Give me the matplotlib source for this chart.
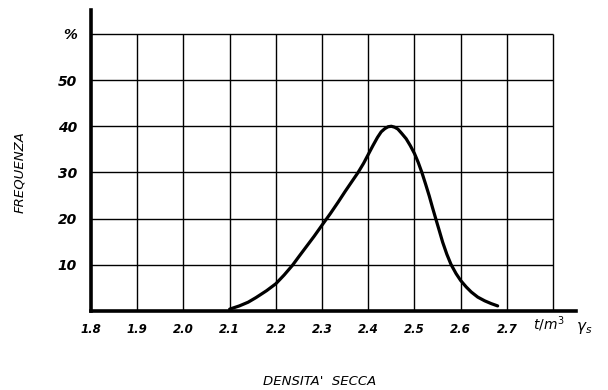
import matplotlib
matplotlib.use("Agg")
import matplotlib.pyplot as plt

# dry density (t/m3) and frequency (%)
density = [2.100, 2.121, 2.140, 2.157, 2.180, 2.200, 2.218, 2.236, 2.250, 2.265,
           2.283, 2.300, 2.318, 2.335, 2.350, 2.365, 2.378, 2.390, 2.400, 2.410,
           2.420, 2.428, 2.436, 2.443, 2.450, 2.457, 2.464, 2.472, 2.482, 2.491,
           2.500, 2.508, 2.516, 2.524, 2.532, 2.539, 2.546, 2.554, 2.561, 2.570,
           2.579, 2.590, 2.600, 2.612, 2.623, 2.637, 2.652, 2.666, 2.680]
frequency = [0.4, 1.1, 1.9, 2.9, 4.4, 5.9, 7.8, 9.9, 11.8, 13.8,
             16.2, 18.6, 21.1, 23.6, 25.9, 28.1, 30.0, 32.0, 33.9, 35.8,
             37.6, 38.8, 39.5, 39.9, 40.0, 39.8, 39.4, 38.5, 37.3, 35.8,
             34.1, 32.2, 30.0, 27.5, 24.9, 22.4, 20.0, 17.3, 14.9, 12.3,
             10.1, 8.1, 6.6, 5.2, 4.1, 3.0, 2.2, 1.6, 1.1]

x_ticks = [1.8, 1.9, 2.0, 2.1, 2.2, 2.3, 2.4, 2.5, 2.6, 2.7]
x_grid = [1.9, 2.0, 2.1, 2.2, 2.3, 2.4, 2.5, 2.6, 2.7, 2.8]
y_ticks = [10, 20, 30, 40, 50, 60]
y_labels = ["10", "20", "30", "40", "50", "%"]

fig = plt.figure(figsize=(6.08, 3.9), dpi=100)
ax = fig.add_axes([0.1497, 0.2026, 0.798, 0.772])
ax.set_xlim(1.8, 2.85)
ax.set_ylim(0, 65.2)

# hand-drawn style grid box
ax.hlines(y_ticks, 1.8, 2.8, color="black", lw=1.0, zorder=1)
ax.vlines(x_grid, 0, 60, color="black", lw=1.0, zorder=1)

ax.plot(density, frequency, color="black", lw=2.3, solid_capstyle="round",
        solid_joinstyle="round", zorder=3)

for s in ["top", "right"]:
    ax.spines[s].set_visible(False)
ax.spines["left"].set_linewidth(2.6)
ax.spines["bottom"].set_linewidth(2.6)

tick_font = dict(weight="bold", style="italic")
ax.set_xticks(x_ticks)
ax.set_xticklabels([f"{v:.1f}" for v in x_ticks], fontsize=8.5, **tick_font)
ax.set_yticks(y_ticks)
ax.set_yticklabels(y_labels, fontsize=10, **tick_font)
ax.tick_params(axis="both", length=0)
ax.tick_params(axis="x", pad=9)
ax.tick_params(axis="y", pad=10)

fig.text(0.877, 0.155, r"$t/m^3$", fontsize=10, ha="left", va="baseline")
fig.text(0.948, 0.152, r"$\gamma_s$", fontsize=11, ha="left", va="baseline")

fig.text(0.033, 0.559, "FREQUENZA", rotation=90, fontsize=9.5,
         style="italic", ha="center", va="center")
fig.text(0.526, 0.022, "DENSITA'  SECCA", fontsize=9.5,
         style="italic", ha="center", va="center")

fig.savefig("out.png", dpi=100)
